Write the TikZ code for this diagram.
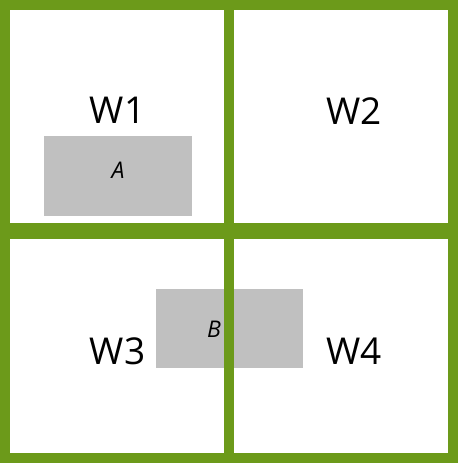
\documentclass[tikz,border=0pt]{standalone}
\usepackage{fontspec}
\setmainfont{Open Sans}
\definecolor{wgreen}{HTML}{6C9A1A}
\definecolor{wgray}{HTML}{C0C0C0}
\begin{document}
\begin{tikzpicture}[x=1pt,y=-1pt,
  wlabel/.style={anchor=base,inner sep=0pt,font=\fontsize{37}{37}\selectfont},
  rlabel/.style={anchor=base,inner sep=0pt,font=\fontsize{23}{23}\selectfont\itshape},
  region/.style={fill=wgray,draw=none},
  gridline/.style={draw=wgreen}]
\useasboundingbox (0,0) rectangle (458,464);
\fill[white] (0,0) rectangle (458,464);
% regions
\path[region] (44,136) rectangle (192,216);
\path[region] (156,289) rectangle (303,368);
\node[rlabel] (A) at (118,178) {A};
\node[rlabel] (B) at (214,337) {B};
% grid
\draw[gridline,line width=10pt] (5,5) rectangle (453,458);
\draw[gridline,line width=10pt] (229,0) -- (229,463);
\draw[gridline,line width=16pt] (0,231) -- (458,231);
% labels
\node[wlabel] (W1) at (117.5,123) {W1};
\node[wlabel] (W2) at (354,124) {W2};
\node[wlabel] (W3) at (117.5,364) {W3};
\node[wlabel] (W4) at (354,364) {W4};
\end{tikzpicture}
\end{document}
